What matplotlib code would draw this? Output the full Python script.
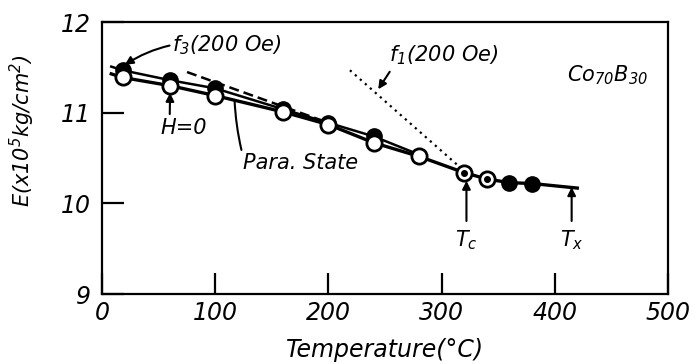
import numpy as np
import matplotlib
matplotlib.use("Agg")
import matplotlib.pyplot as plt

plt.rcParams['font.family'] = ['DejaVu Sans']
plt.rcParams['font.style'] = 'italic'
plt.rcParams['mathtext.fontset'] = 'dejavusans'
plt.rcParams['mathtext.default'] = 'it'

# data
temp_h0 = [18, 60, 100, 160, 200, 240, 280, 320, 340, 360, 380]
E_h0 = [11.39, 11.30, 11.19, 11.01, 10.87, 10.67, 10.52, 10.34, 10.27, 10.23, 10.22]
temp_f3 = [18, 60, 100, 160, 200, 240]
E_f3 = [11.47, 11.36, 11.27, 11.04, 10.89, 10.74]
# line ends beyond the measured points
line_h0_T = [8] + temp_h0 + [420]
line_h0_E = [11.43] + E_h0 + [10.17]
line_f3_T = [8] + temp_f3 + [280]
line_f3_E = [11.51] + E_f3 + [10.54]
para_T = [75, 200]
para_E = [11.45, 10.89]
f1_T = [219, 319]
f1_E = [11.47, 10.37]

fig = plt.figure(figsize=(7, 3.64), dpi=100)
ax = fig.add_axes([0.146, 0.192, 0.808, 0.747])

ax.plot(line_f3_T, line_f3_E, color='black', lw=1.8, zorder=2)
ax.plot(line_h0_T, line_h0_E, color='black', lw=2.4, zorder=2)
ax.plot(para_T, para_E, color='black', lw=1.8, ls=(0, (4, 2)), zorder=2)
ax.plot(f1_T, f1_E, color='black', lw=1.6, ls=(0, (1, 2)), zorder=2)

# f3 filled circles (partly hidden)
ax.plot(temp_f3, E_f3, 'o', color='black', ms=11, zorder=3)
# H=0 open circles
ax.plot(temp_h0[:7], E_h0[:7], 'o', mfc='white', mec='black', mew=2, ms=11, zorder=4)
ax.plot(temp_h0[7:9], E_h0[7:9], 'o', mfc='white', mec='black', mew=2, ms=11, zorder=4)
ax.plot(temp_h0[7:9], E_h0[7:9], 'o', color='black', ms=4, zorder=5)
ax.plot(temp_h0[9:], E_h0[9:], 'o', color='black', ms=11, zorder=4)

ax.set_xlim(0, 500)
ax.set_ylim(9, 12)
ax.set_xticks([0, 100, 200, 300, 400, 500])
ax.set_yticks([9, 10, 11, 12])
ax.tick_params(axis='both', direction='in', labelsize=17, width=1.6, color='black')
ax.tick_params(axis='x', length=15, pad=5, top=False)
ax.tick_params(axis='y', length=16, pad=8, right=False)
for s in ax.spines.values():
    s.set_linewidth(1.6)

ax.set_xlabel('Temperature(°C)', fontsize=17, va='center')
ax.set_ylabel('E(x10$^5$kg/cm$^2$)', fontsize=15)
ax.yaxis.set_label_coords(-0.115, 0.6)
ax.xaxis.set_label_coords(0.5, -0.205)

arw = dict(arrowstyle='-|>', color='black', lw=1.5, mutation_scale=12)
ax.annotate('f$_3$(200 Oe)', xy=(20, 11.53), xytext=(62, 11.75), fontsize=15,
            va='center', ha='left',
            arrowprops=dict(arw, connectionstyle='arc3,rad=0.2', shrinkA=0, shrinkB=0))
ax.annotate('H=0', xy=(60, 11.22), xytext=(72, 10.83), fontsize=15,
            va='center', ha='center',
            arrowprops=dict(arw, relpos=(0.2, 1.0), shrinkA=1, shrinkB=0))
ax.annotate('Para. State', xy=(117, 11.14), xytext=(175, 10.45), fontsize=15,
            va='center', ha='center',
            arrowprops=dict(arrowstyle='-', color='black', lw=1.5,
                            connectionstyle='arc3,rad=-0.05',
                            relpos=(0.0, 0.9), shrinkA=0, shrinkB=0))
ax.annotate('f$_1$(200 Oe)', xy=(244, 11.26), xytext=(302, 11.64), fontsize=15,
            va='center', ha='center',
            arrowprops=dict(arw, relpos=(0.05, 0.1), shrinkA=2, shrinkB=0))
ax.text(447, 11.42, 'Co$_{70}$B$_{30}$', fontsize=15, ha='center', va='center')
ax.annotate('T$_c$', xy=(322, 10.25), xytext=(322, 9.6), fontsize=15,
            ha='center', va='center',
            arrowprops=dict(arw, shrinkA=3, shrinkB=0))
ax.annotate('T$_x$', xy=(415, 10.18), xytext=(415, 9.6), fontsize=15,
            ha='center', va='center',
            arrowprops=dict(arw, shrinkA=3, shrinkB=0))

fig.savefig('out.png', dpi=100)
